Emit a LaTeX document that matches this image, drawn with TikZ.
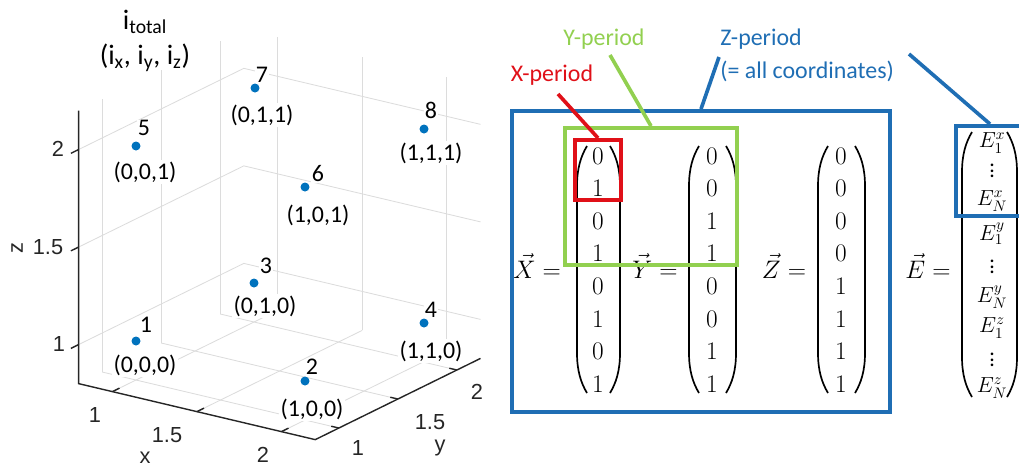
\documentclass[tikz,border=0pt]{standalone}
\usepackage{fix-cm}
\usepackage[no-math]{fontspec}
\setmainfont{Carlito}
\newfontfamily\axisfont{Liberation Sans}
\usetikzlibrary{fit}

\definecolor{ptblue}{RGB}{0,114,189}
\definecolor{boxblue}{RGB}{31,110,180}
\definecolor{pgreen}{RGB}{146,208,80}
\definecolor{pred}{RGB}{224,16,24}
\definecolor{axgray}{RGB}{38,38,38}
\definecolor{gridgray}{RGB}{220,220,220}

\tikzset{
  grid line/.style={gridgray, line width=0.6pt},
  axis line/.style={axgray, line width=1pt},
  tick label/.style={axgray, font=\axisfont\fontsize{15.5}{18}\selectfont, inner sep=0pt},
  dot/.style={circle, fill=ptblue, inner sep=0pt, minimum size=6.4pt},
  idx/.style={font=\fontsize{17}{20}\selectfont, fill=white, inner sep=0.5pt},
  coordlabel/.style={font=\fontsize{17}{20}\selectfont, fill=white, inner sep=1pt},
  entry/.style={font=\fontsize{18}{21}\selectfont, inner sep=0pt},
  eentry/.style={font=\fontsize{15.5}{18}\selectfont, inner sep=0pt},
  paren/.style={line width=1.2pt},
  period box/.style={draw, line width=2.8pt, inner sep=0pt},
  callout/.style={line width=2.6pt},
  period label/.style={font=\fontsize{17}{20}\selectfont, inner sep=0pt},
}

% left and right parenthesis of a column: xl, xr, ytop, ybottom
\newcommand{\colparens}[4]{%
  \draw[paren] (#1+10,#3) .. controls (#1+4,#3+10) and (#1,#3+22) .. (#1,#3+40)
    -- (#1,#4-40) .. controls (#1,#4-22) and (#1+4,#4-10) .. (#1+10,#4);
  \draw[paren] (#2-10,#3) .. controls (#2-4,#3+10) and (#2,#3+22) .. (#2,#3+40)
    -- (#2,#4-40) .. controls (#2,#4-22) and (#2-4,#4-10) .. (#2-10,#4);
}
% vertical dots without the top kern of \vdots
\newcommand{\coldots}{\vbox{\baselineskip4pt\lineskiplimit0pt\hbox{.}\hbox{.}\hbox{.}}}

\begin{document}
\begin{tikzpicture}[x=0.025cm, y=-0.025cm]
  \useasboundingbox (0,0) rectangle (1019,470);
  \clip (0,0) rectangle (1019,470);

  % 3D scatter plot
  \begin{scope}[shift={(136,341)}, x={(4.225cm,-1cm)}, y={(2.95cm,1.45cm)}, z={(0cm,4.875cm)}]
    \foreach \t in {0,0.5,1} {
      \draw[grid line] (-0.2,\t,-0.2) -- (-0.2,\t,1.2);
      \draw[grid line] (\t,1.2,-0.2) -- (\t,1.2,1.2);
      \draw[grid line] (-0.2,-0.2,\t) -- (-0.2,1.2,\t) -- (1.2,1.2,\t);
      \draw[grid line] (\t,-0.2,-0.2) -- (\t,1.2,-0.2);
      \draw[grid line] (-0.2,\t,-0.2) -- (1.2,\t,-0.2);
    }
    \draw[axis line] (-0.2,-0.2,1.2) -- (-0.2,-0.2,-0.2) -- (1.2,-0.2,-0.2) -- (1.2,1.2,-0.2);
    \foreach \t in {0,0.5,1} {
      \draw[axis line] (\t,-0.2,-0.2) -- ++(0,0.06,0);
      \draw[axis line] (1.2,\t,-0.2) -- ++(-0.045,0,0);
      \draw[axis line] (-0.2,-0.2,\t) -- ++(0,-0.065,0);
    }
  \end{scope}

  % tick labels
  \foreach \lab/\px/\py [count=\i] in {1/95/415, 1.5/167/435, 2/263/455}
    \node[tick label] (xt\i) at (\px,\py) {\lab};
  \foreach \lab/\px/\py [count=\i] in {1/358/448, 1.5/430/422, 2/477/392}
    \node[tick label] (yt\i) at (\px,\py) {\lab};
  \foreach \lab/\px/\py [count=\i] in {1/59/344, 1.5/48/247, 2/58/149}
    \node[tick label] (zt\i) at (\px,\py) {\lab};
  \node[tick label] (xname) at (145,458) {x};
  \node[tick label] (yname) at (440,448) {y};
  \node[tick label, rotate=90] (zname) at (17,248) {z};

  % header
  \node[inner sep=0pt, font=\fontsize{20}{24}\selectfont] (itot) at (145,22) {i\textsubscript{total}};
  \node[inner sep=0pt, font=\fontsize{20}{24}\selectfont] (ixyz) at (145,58)
    {(i\textsubscript{x}, i\textsubscript{y}, i\textsubscript{z})};

  % points with labels
  \foreach \k/\px/\py/\nx/\ny/\cx/\cy/\c in {
      1/136/341/146/325/145/365/{(0,0,0)},
      2/305/381/312/367/312/409/{(1,0,0)},
      3/254/283/266/266/265/306/{(0,1,0)},
      4/424/323/431/310/431/351/{(1,1,0)},
      5/136/146/144/128/145/172/{(0,0,1)},
      6/305/187/318/174/318/215/{(1,0,1)},
      7/255/88/262/75/262/115/{(0,1,1)},
      8/424/129/431/110/431/153/{(1,1,1)}} {
    \node[idx] (n\k) at (\nx,\ny) {\k};
    \node[coordlabel] (c\k) at (\cx,\cy) {\c};
    \node[dot] (p\k) at (\px,\py) {};
  }

  % vectors X, Y, Z
  \foreach \v [count=\i] in {0,1,0,1,0,1,0,1}
    \node[entry] (xv\i) at (598,123.4+32.6*\i) {$\v$};
  \foreach \v [count=\i] in {0,0,1,1,0,0,1,1}
    \node[entry] (yv\i) at (712,123.4+32.6*\i) {$\v$};
  \foreach \v [count=\i] in {0,0,0,0,1,1,1,1}
    \node[entry] (zv\i) at (841,123.4+32.6*\i) {$\v$};
  \colparens{577}{620}{146}{393}
  \colparens{689}{736}{146}{393}
  \colparens{818}{865}{146}{393}
  \node[entry] (xeq) at (537,266) {$\vec{X} =$};
  \node[entry] (yeq) at (655,266) {$\vec{Y} =$};
  \node[entry] (zeq) at (784,266) {$\vec{Z} =$};

  % vector E
  \node[entry] (eeq) at (928,266) {$\vec{E} =$};
  \node[eentry] (e1) at (992,143) {$E_1^x$};
  \node[eentry] (e2) at (992,171) {\coldots};
  \node[eentry] (e3) at (992,201) {$E_N^x$};
  \node[eentry] (e4) at (992,234) {$E_1^y$};
  \node[eentry] (e5) at (992,267) {\coldots};
  \node[eentry] (e6) at (992,297) {$E_N^y$};
  \node[eentry] (e7) at (992,328) {$E_1^z$};
  \node[eentry] (e8) at (992,360) {\coldots};
  \node[eentry] (e9) at (992,388) {$E_N^z$};
  \colparens{962}{1017}{132}{397}

  % period boxes
  \node[period box, boxblue, fit={(512,111) (890,412)}] (zbox) {};
  \node[period box, pgreen, fit={(565,128) (737,265)}] (ybox) {};
  \node[period box, pred, fit={(575,140) (621,200)}] (xbox) {};
  \node[period box, boxblue, fit={(956,126) (1024,216)}] (ebox) {};

  % labels and callouts
  \node[period label, pred] (xlab) at (552,75) {X-period};
  \node[period label, pgreen] (ylab) at (604,39) {Y-period};
  \node[period label, boxblue, anchor=west] (zlab) at (720,39) {Z-period};
  \node[period label, boxblue, anchor=west] (zlab2) at (720,71) {(= all coordinates)};
  \coordinate (xtail) at (558,94);
  \coordinate (ytail) at (610,55);
  \coordinate (ztail) at (719,57);
  \coordinate (etail) at (909,54);
  \draw[callout, pred] (xtail) -- (xbox.north);
  \draw[callout, pgreen] (ytail) -- (ybox.north);
  \draw[callout, boxblue] (ztail) -- (zbox.north);
  \draw[callout, boxblue] (etail) -- (ebox.north);
\end{tikzpicture}
\end{document}
